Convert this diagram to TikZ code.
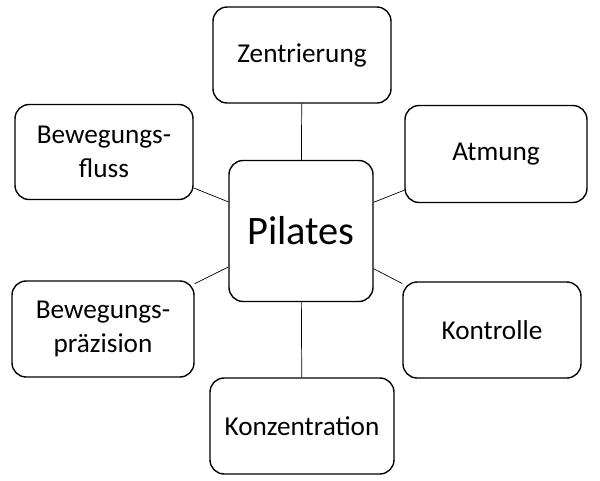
\documentclass[tikz,border=0pt]{standalone}
\usepackage{fontspec}
\setmainfont{Carlito}
\begin{document}
\begin{tikzpicture}[x=0.02cm,y=-0.02cm,
    topic/.style={draw, thick, rounded corners=8pt, align=center,
      font=\fontsize{15.5}{19}\selectfont},
    center/.style={topic, minimum width=2.88cm, minimum height=2.82cm,
      font=\fontsize{23}{27}\selectfont}]
    \useasboundingbox (0,0) rectangle (600,481);

    % Middle node
    \node[center] (Pilates) at (301,231) {Pilates};

    % Surrounding topics
    \node[topic, minimum width=3.56cm, minimum height=1.92cm] (Zentrierung) at (302,55) {Zentrierung};
    \node[topic, minimum width=3.64cm, minimum height=1.94cm] (Atmung) at (496,154) {Atmung};
    \node[topic, minimum width=3.56cm, minimum height=1.92cm] (Kontrolle) at (492,330) {Kontrolle};
    \node[topic, minimum width=3.68cm, minimum height=1.92cm] (Konzentration) at (302,426) {Konzentration};
    \node[topic, minimum width=3.64cm, minimum height=1.92cm] (Praezision) at (103,329) {Bewegungs-\\präzision};
    \node[topic, minimum width=3.56cm, minimum height=1.9cm] (Fluss) at (104,152) {Bewegungs-\\fluss};

    % Connections
    \foreach \t in {Zentrierung, Atmung, Kontrolle, Konzentration, Praezision, Fluss}
        \draw (Pilates) -- (\t);
\end{tikzpicture}
\end{document}
